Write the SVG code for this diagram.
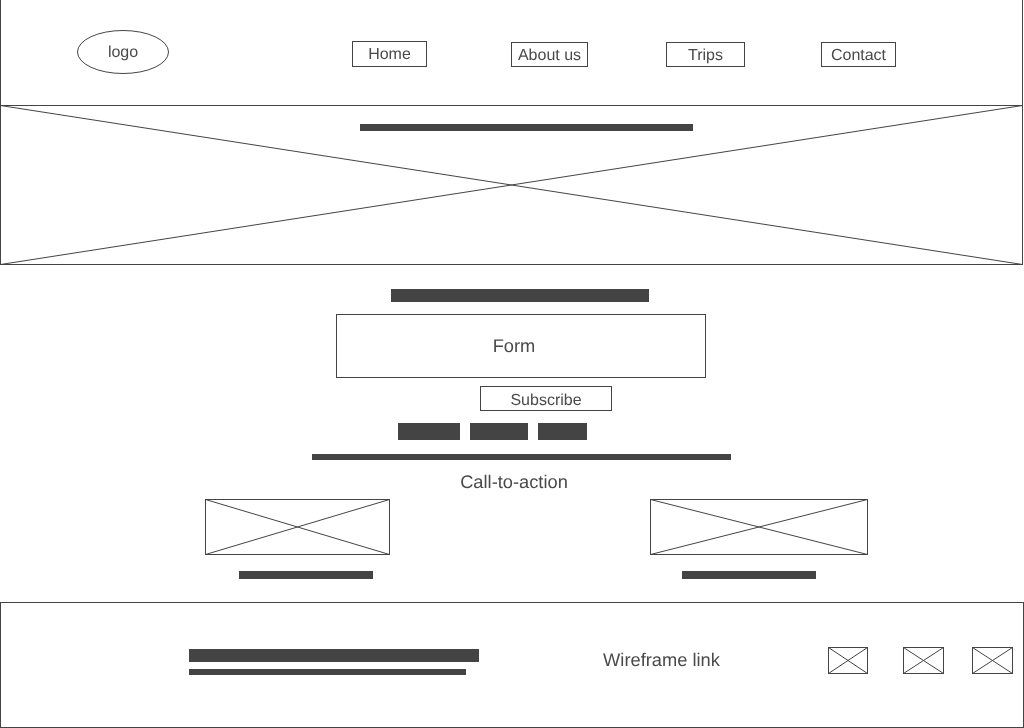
<svg xmlns="http://www.w3.org/2000/svg" width="1024" height="728" viewBox="0 0 1024 728">
<style>
.b{fill:#fff;stroke:#444;stroke-width:1}
.x{fill:none;stroke:#444;stroke-width:1}
.f{fill:#444}
text{font-family:"Liberation Sans",Arial,sans-serif;fill:#4a4a4a;text-anchor:middle;text-rendering:geometricPrecision;filter:grayscale(1)}
.s{font-size:16px}
.l{font-size:18.3px}
</style>
<rect width="1024" height="728" fill="#fff"/>
<g id="header"><rect class="b" x="0.5" y="-5" width="1022" height="110.5"/></g>
<g id="logo"><ellipse class="b" cx="123" cy="52" rx="45.5" ry="21.5"/><text class="s" x="123" y="57">logo</text></g>
<g id="nav-home"><rect class="b" x="352.5" y="41.5" width="74" height="25"/><text class="s" x="389.5" y="59">Home</text></g>
<g id="nav-about"><rect class="b" x="511.5" y="42.5" width="76" height="24"/><text class="s" x="549.5" y="60">About us</text></g>
<g id="nav-trips"><rect class="b" x="666.5" y="42.5" width="78" height="24"/><text class="s" x="705.5" y="60">Trips</text></g>
<g id="nav-contact"><rect class="b" x="821.5" y="42.5" width="74" height="24"/><text class="s" x="858.5" y="60">Contact</text></g>
<g id="hero"><rect class="b" x="0.5" y="105.5" width="1022" height="159"/><path class="x" d="M0.5 105.5L1022.5 264.5M1022.5 105.5L0.5 264.5"/><rect class="f" x="360" y="124" width="333" height="7"/></g>
<g id="form-title"><rect class="f" x="391" y="289" width="258" height="13"/></g>
<g id="form"><rect class="b" x="336.5" y="314.5" width="369" height="63"/><text class="l" x="514" y="352">Form</text></g>
<g id="subscribe"><rect class="b" x="480.5" y="386.5" width="131" height="24"/><text class="s" x="546" y="405">Subscribe</text></g>
<g id="social"><rect class="f" x="398" y="423" width="62" height="17"/><rect class="f" x="470" y="423" width="58" height="17"/><rect class="f" x="538" y="423" width="49" height="17"/></g>
<g id="divider"><rect class="f" x="312" y="454" width="419" height="6"/></g>
<g id="cta"><text class="l" x="514" y="488">Call-to-action</text></g>
<g id="card-left"><rect class="b" x="205.5" y="499.5" width="184" height="55"/><path class="x" d="M205.5 499.5L389.5 554.5M389.5 499.5L205.5 554.5"/><rect class="f" x="239" y="571" width="134" height="8"/></g>
<g id="card-right"><rect class="b" x="650.5" y="499.5" width="217" height="55"/><path class="x" d="M650.5 499.5L867.5 554.5M867.5 499.5L650.5 554.5"/><rect class="f" x="682" y="571" width="134" height="8"/></g>
<g id="footer"><rect class="b" x="0.5" y="602.5" width="1023" height="125"/><rect class="f" x="189" y="649" width="290" height="13"/><rect class="f" x="189" y="669" width="277" height="6"/><text class="l" x="661.5" y="666">Wireframe link</text></g>
<g id="icon-1"><rect class="b" x="828.5" y="647.5" width="39" height="26"/><path class="x" d="M828.5 647.5L867.5 673.5M867.5 647.5L828.5 673.5"/></g>
<g id="icon-2"><rect class="b" x="903.5" y="647.5" width="40" height="26"/><path class="x" d="M903.5 647.5L943.5 673.5M943.5 647.5L903.5 673.5"/></g>
<g id="icon-3"><rect class="b" x="972.5" y="647.5" width="40" height="26"/><path class="x" d="M972.5 647.5L1012.5 673.5M1012.5 647.5L972.5 673.5"/></g>
</svg>
